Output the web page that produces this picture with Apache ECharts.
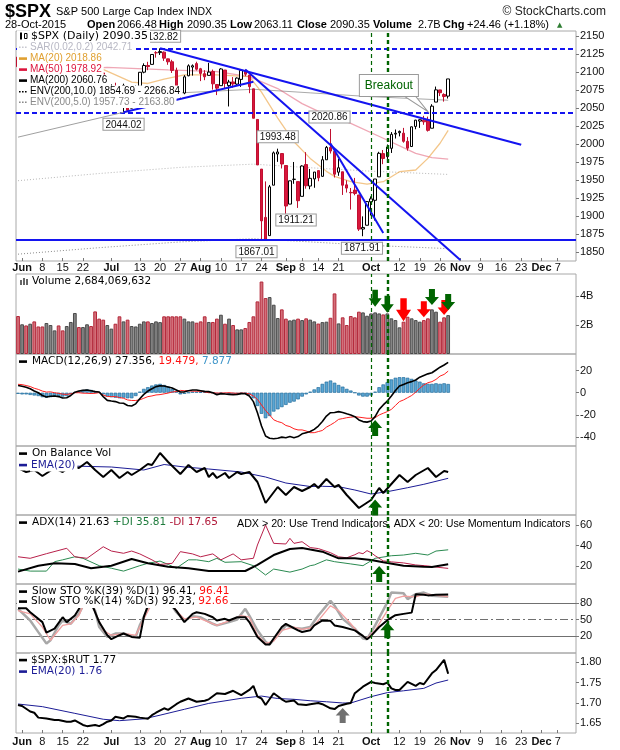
<!DOCTYPE html>
<html><head><meta charset="utf-8">
<script src="https://cdn.jsdelivr.net/npm/echarts@6/dist/echarts.min.js"></script>
<style>html,body{margin:0;padding:0;background:#fff}#c{width:620px;height:750px}</style>
</head><body><div id="c"></div>
<script>
// ---------------- DATA (index 0 = 2015-05-29, trading days) ----------------
const holidays = ['2015-07-03','2015-09-07','2015-11-26'];
const dates = (function(){const out=[];const d=new Date(Date.UTC(2015,4,29));while(out.length<138){const wd=d.getUTCDay();const s=d.toISOString().slice(0,10);if(wd!==0&&wd!==6&&holidays.indexOf(s)<0)out.push(s);d.setUTCDate(d.getUTCDate()+1);}return out;})();
const tickLabels = {'2015-06-01':'Jun','2015-06-08':'8','2015-06-15':'15','2015-06-22':'22','2015-07-01':'Jul','2015-07-13':'13','2015-07-20':'20','2015-07-27':'27','2015-08-03':'Aug','2015-08-10':'10','2015-08-17':'17','2015-08-24':'24','2015-09-01':'Sep','2015-09-08':'8','2015-09-14':'14','2015-09-21':'21','2015-10-01':'Oct','2015-10-12':'12','2015-10-19':'19','2015-10-26':'26','2015-11-02':'Nov','2015-11-09':'9','2015-11-16':'16','2015-11-23':'23','2015-12-01':'Dec','2015-12-07':'7'};
const monthNames = ['Jun','Jul','Aug','Sep','Oct','Nov','Dec'];

const open = [2120.66,2108.64,2110.41,2110.64,2112.35,2095.09,2092.34,2079.07,2081.12,2106.24,2107.43,2091.34,2084.26,2097.40,2101.58,2121.06,2112.50,2123.16,2123.65,2109.96,2102.62,2098.63,2061.19,2067.00,2078.03,2073.95,2069.52,2077.66,2049.73,2052.74,2080.03,2099.72,2109.01,2110.55,2126.80,2126.85,2127.55,2118.21,2114.16,2102.24,2078.19,2070.75,2094.70,2106.78,2111.60,2104.49,2097.68,2095.27,2100.75,2082.61,2080.98,2102.66,2081.10,2086.19,2083.15,2089.70,2101.99,2095.69,2076.61,2034.08,1965.15,1898.08,1872.75,1942.77,1986.06,1986.73,1970.09,1916.52,1950.79,1947.76,1927.30,1971.45,1941.59,1951.45,1963.06,1955.10,1978.02,1995.33,1989.66,1960.84,1961.39,1943.24,1932.74,1935.93,1929.18,1881.90,1887.14,1919.65,1921.77,1954.33,1986.63,1982.34,1994.01,2013.73,2015.65,2015.00,2003.66,1996.47,2024.37,2031.73,2033.13,2033.47,2021.88,2058.19,2075.08,2068.75,2066.48];
const high = [2120.66,2119.15,2117.59,2121.92,2112.89,2100.99,2093.01,2085.62,2108.50,2115.02,2107.43,2091.34,2097.40,2106.79,2126.65,2121.64,2129.87,2128.03,2125.10,2116.04,2108.92,2098.63,2074.28,2082.78,2085.06,2078.61,2083.74,2077.66,2074.28,2081.31,2099.88,2111.98,2114.14,2124.42,2128.91,2132.82,2128.49,2118.51,2116.87,2106.01,2078.19,2095.60,2110.60,2110.48,2114.24,2105.70,2102.51,2112.66,2103.32,2082.61,2105.35,2102.66,2089.06,2092.93,2092.45,2102.87,2103.47,2096.17,2076.61,2034.08,1965.15,1948.04,1943.09,1989.60,1993.48,1986.73,1970.09,1948.91,1975.01,1947.76,1970.42,1988.63,1965.29,1961.05,1963.06,1983.19,1997.26,2020.86,1989.66,1979.64,1961.39,1949.52,1938.88,1952.89,1929.18,1899.48,1920.53,1927.21,1951.36,1989.17,1991.62,1999.31,2016.50,2020.13,2018.66,2022.34,2009.56,2024.15,2033.54,2034.45,2039.12,2037.97,2055.20,2079.74,2075.14,2070.37,2090.35];
const low = [2104.89,2102.54,2099.14,2109.61,2093.23,2085.67,2079.11,2072.14,2081.12,2106.24,2091.33,2072.49,2082.10,2088.86,2101.58,2109.45,2112.50,2119.89,2108.58,2101.78,2095.38,2056.64,2056.32,2067.00,2071.02,2058.40,2044.02,2044.66,2049.73,2052.74,2080.03,2098.18,2102.49,2110.55,2119.88,2123.66,2115.40,2110.00,2098.63,2077.09,2063.52,2069.09,2094.08,2094.97,2102.07,2087.31,2088.60,2095.27,2075.53,2067.91,2080.98,2076.49,2052.09,2078.26,2080.61,2079.30,2094.14,2070.53,2035.73,1970.89,1867.01,1867.08,1872.75,1942.77,1975.19,1965.98,1903.07,1916.52,1944.72,1911.21,1927.30,1937.88,1937.19,1939.19,1948.27,1954.30,1977.93,1986.73,1953.45,1955.80,1929.22,1932.57,1908.92,1928.75,1879.21,1871.91,1887.14,1900.70,1893.70,1954.33,1971.99,1976.44,1987.53,2007.61,2010.55,2001.78,1990.73,1996.47,2020.46,2022.31,2026.61,2017.22,2021.88,2058.19,2066.53,2058.84,2063.11];
const close = [2107.39,2111.73,2109.60,2114.07,2095.84,2092.83,2079.28,2080.15,2105.20,2108.86,2094.11,2084.43,2096.29,2100.44,2121.24,2109.99,2122.85,2124.20,2108.58,2102.31,2101.49,2057.64,2063.11,2077.42,2076.78,2068.76,2081.34,2046.68,2051.31,2076.62,2099.60,2108.95,2107.40,2124.29,2126.64,2128.28,2119.21,2114.15,2102.15,2079.65,2067.64,2093.25,2108.57,2108.63,2103.84,2098.04,2093.32,2099.84,2083.56,2077.57,2104.18,2084.07,2086.05,2083.39,2091.54,2102.44,2096.92,2079.61,2035.73,1970.89,1893.21,1867.61,1940.51,1987.66,1988.87,1972.18,1913.85,1948.86,1951.13,1921.22,1969.41,1942.04,1952.29,1961.05,1953.03,1978.09,1995.31,1990.20,1958.03,1966.97,1942.74,1938.76,1932.24,1931.34,1881.77,1884.09,1920.03,1923.82,1951.36,1987.05,1979.92,1995.83,2013.43,2014.89,2017.46,2003.69,1994.24,2023.86,2033.11,2033.66,2030.77,2018.94,2052.51,2075.15,2071.18,2065.89,2090.35];
// volume in billions
const volume = [2.62,2.05,1.97,2.09,2.25,1.9,1.9,2.14,2.0,1.63,1.97,1.63,1.93,2.21,2.83,1.86,1.86,2.05,1.93,2.94,2.44,2.37,2.0,1.75,2.09,2.6,2.25,2.37,1.93,1.9,2.09,2.25,2.25,2.14,2.25,2.2,2.6,2.6,2.6,2.6,2.6,2.44,2.25,2.25,2.16,2.25,2.6,2.21,2.21,2.44,2.71,2.09,2.44,2.0,1.7,1.7,1.79,2.21,2.6,3.63,5.0,3.86,3.93,3.4,2.48,3.08,2.44,2.32,2.37,2.44,2.34,2.46,2.37,2.25,2.1,2.2,2.23,2.5,4.18,2.11,2.53,2.0,2.62,2.53,2.92,2.87,2.64,2.8,2.87,2.8,2.73,2.8,2.46,2.34,1.84,2.23,2.57,2.46,2.34,2.23,2.34,2.46,3.08,2.92,2.23,2.53,2.684];
// moving averages / envelopes: [dayIndex, value]
const ma20 = [[0,2104],[10,2101],[20,2106],[24,2096],[28,2086],[32,2084],[36,2090],[41,2096],[49,2096],[57,2093.5],[60,2072],[64,2036],[68,2003],[72,1980],[76,1962],[78,1955],[82,1947.6],[86,1944.4],[90,1947.6],[94,1961.5],[98,1963.9],[101,1980],[104,2001],[106,2018.86]];
const ma50 = [[0,2100],[22,2106.5],[37,2102.8],[49,2100.5],[57,2093.5],[64,2077],[70,2056],[76,2040],[82,2028.7],[90,2008],[98,1987],[102,1981],[106,1978.92]];
const ma200 = [[0,2052],[20,2062],[40,2071],[58,2076],[72,2071],[86,2066],[106,2060.76]];
const env5Low = [[0,1949],[20,1959],[40,1967.5],[58,1972],[72,1967],[86,1962.5],[106,1957.73]];
const env10Low = [[0,1847],[20,1856],[40,1864],[58,1868.5],[72,1864],[86,1859.5],[106,1854.69]];
// annotation levels and trend lines [x0,y0,x1,y1]
const levels = {top:2132.82, mid:2044.02, bottom:1867.01};
const trendLines = [[35,2132.82,124,1999],[26,2044.02,58,2086.5],[56,2103.47,109,1839],[77,2000.7,90,1876.4]];
const trendExt = [0,2009.5,26,2044.02];
const pivots = [[35,'high','top',0],[26,'low','bottom',0],[60,'low','bottom',-5],[64,'high','top',0],[69,'low','bottom',-2],[77,'high','top',-1],[85,'low','bottom',-1]];
const signalDays = [87,91];
// MACD
const macd = [6.6,5.8,5.0,3.6,1.5,0,-2.5,-3.9,-3.2,-3.0,-3.5,-4.8,-4.5,-2.5,0.5,1.5,2.1,2.5,1.8,1.0,0.6,-3.5,-6.9,-7.5,-8.0,-9.3,-9.5,-11.5,-12.0,-10.0,-5.4,-1.5,1.5,3.6,5.5,6.3,6.0,5.2,4.2,2.5,0.6,0.8,1.8,2.4,2.4,1.8,1.2,1.0,0,-1.8,-0.8,-1.2,-1.5,-1.8,-1.5,-0.8,-0.9,-3.0,-8.0,-18.0,-30.0,-39.0,-41.0,-41.4,-41.0,-40.0,-40.5,-39.5,-40.5,-39.5,-37.0,-36.0,-35.0,-33.0,-30.0,-26.0,-21.0,-18.0,-17.8,-17.0,-17.8,-19.0,-20.0,-21.6,-24.5,-26.0,-26.5,-25.5,-21.5,-15.0,-11.0,-7.5,-3.0,2.0,6.0,7.5,9.0,10.0,11.5,14.0,15.5,17.0,18.0,20.5,23.0,25.0,27.36];
const macdSignal = [7.6,7.3,6.5,5.6,4.0,3.0,1.5,0.6,0.8,0.0,-0.5,-1.3,-1.5,-1.0,0.0,0.0,-0.4,-0.5,-0.7,-0.5,0.1,-2.0,-3.4,-3.5,-3.5,-4.3,-5.0,-6.5,-7.0,-7.0,-6.4,-5.0,-3.5,-2.9,-2.0,-1.7,-1.0,-0.3,0.7,1.0,2.1,1.8,1.8,1.4,1.4,1.3,0.7,0.0,0.0,-0.3,-0.3,-0.2,0.0,-0.3,-0.5,-0.3,-0.4,-1.0,-3.0,-6.0,-11.0,-16.0,-20.0,-24.4,-26.0,-27.0,-29.5,-30.5,-32.5,-33.5,-33.5,-34.5,-36.0,-36.0,-35.0,-34.0,-31.0,-29.0,-26.8,-24.0,-23.3,-22.5,-22.0,-21.6,-22.0,-22.5,-23.0,-23.0,-22.5,-20.0,-18.5,-17.0,-15.0,-11.5,-8.0,-6.5,-4.5,-2.5,0.5,4.0,7.0,9.0,10.0,12.0,15.0,16.5,19.48];
const macdHist = [-1,-1.5,-1.5,-2,-2.5,-3,-4,-4.5,-4,-3,-3,-3.5,-3,-1.5,0.5,1.5,2.5,3,2.5,1.5,0.5,-1.5,-3.5,-4,-4.5,-5,-4.5,-5,-5,-3,1,3.5,5,6.5,7.5,8,7,5.5,3.5,1.5,-1.5,-1,0,1,1,0.5,0.5,1,0,-1.5,-0.5,-1,-1.5,-1.5,-1,-0.5,-0.5,-2,-5,-12,-19,-23,-21,-17,-15,-13,-11,-9,-8,-6,-3.5,-1.5,1,3,5,8,10,11,9,7,5.5,3.5,2,0,-2.5,-3.5,-3.5,-2.5,1,5,7.5,9.5,12,13.5,14,14,13.5,12.5,11,10,8.5,8,8,8.5,8,8.5,7.88];
// On Balance Volume (relative units, billions)
const obv = [[0,147],[2,143],[4,145],[6,139],[9,147],[11,143],[13,149],[15,147],[17,153],[19,145],[21,138],[23,145],[25,137],[27,143],[28,140],[30,145],[32,151],[33,150],[35,162],[37,153],[40,141],[42,150],[44,143],[46,147],[47,138],[48,142],[49,137],[51,142],[52,137],[54,143],[55,141],[57,143],[59,133],[61,112],[64,128],[66,120],[68,128],[70,124],[72,128],[73,131],[74,127],[76,136],[78,128],[79,130],[81,120],[84,107],[87,115],[89,127],[90,122],[94,140],[96,133],[98,140],[101,147],[103,138],[105,144],[106,143]];
const obvEma = [[0,150],[13,149],[23,148],[31,145],[36,150.5],[41,148],[47,146],[55,143],[61,138],[66,132],[72,128.5],[75,128.7],[79,128.3],[83,125],[87,121],[91,123.3],[96,127.3],[100,130.7],[106,136.7]];
// ADX
const adx = [[0,14.5],[5,20.3],[9,22.6],[14,22],[18,17.8],[23,20.3],[28,26.8],[32,22.6],[37,19.3],[42,17.8],[47,15.1],[51,15.1],[56,15.1],[59,21],[63,30.7],[67,36.6],[70,37.6],[72,36],[75,34],[79,27.5],[83,27.5],[87,25.9],[90,23.6],[95,20.3],[100,19.3],[102,19],[106,21.63]];
const plusDI = [[0,17],[3,15],[7,15],[9,24.2],[11,26],[14,29],[16,27.5],[20,20.3],[23,17.8],[26,15],[30,20.3],[32,22.6],[35,24.8],[37,21.5],[39,17.8],[42,26],[44,26],[47,24.2],[49,27.5],[51,23.6],[55,24.2],[58,20.3],[61,11.2],[63,17],[67,14],[70,17],[72,20.3],[73,21],[76,26],[78,24.2],[82,22],[85,20.3],[88,27.5],[92,30],[95,30.7],[98,32.4],[101,30.7],[103,34.6],[106,35.81]];
const minusDI = [[0,29],[3,27.5],[7,32],[12,37.3],[14,29],[17,27.5],[21,38.8],[23,34.6],[26,32.4],[28,34.6],[30,31.8],[33,26],[35,21.5],[38,22.6],[40,34],[43,31.8],[45,29],[48,31.8],[50,26],[53,31.8],[55,26],[58,27.5],[59,40.5],[61,60],[63,42.1],[66,41.5],[67,47],[68,42.1],[70,43.7],[72,38],[74,37],[77,33],[79,29],[81,28],[83,31],[84,33],[85,32],[86,35],[87,33],[88,30],[90,25],[92,24],[95,23],[98,21],[101,20],[104,18.5],[106,17.65]];
// Slow stochastics
const stoK39 = [[0,71],[2,71],[3,63.7],[6,45.5],[7,26.1],[9,33.4],[11,54.5],[12,45.5],[14,57.6],[15,69.8],[16,88],[17,96],[18,81.8],[20,45.5],[22,21.3],[23,14],[25,21.3],[26,24.4],[28,18.2],[30,16.4],[31,55],[32,75.8],[33,92],[35,99],[37,90],[38,75],[39,66.7],[41,45.5],[43,60.7],[44,63.7],[46,60.7],[48,54.5],[49,48.5],[51,51.5],[52,48.5],[54,54.5],[56,54.5],[57,45.5],[59,18.2],[61,4.3],[62,4.3],[63,15.2],[65,36.4],[66,42.4],[69,30.3],[70,27.3],[72,30.3],[73,39.4],[75,48.5],[77,47.9],[78,39.4],[80,36.4],[83,30.3],[85,20],[86,14],[87,20],[89,36.4],[91,49.1],[93,58.2],[95,60.7],[97,63],[98,97],[100,96],[101,94.8],[103,96],[106,96.41]];
const stoK14 = [[0,70],[3,48.5],[5,27],[7,6.1],[8,12],[10,39.4],[11,48.5],[13,42.4],[15,60.7],[16,75.8],[17,90],[19,66.7],[20,36.4],[22,18.2],[24,24.4],[26,24.4],[29,18.2],[30,39.4],[32,70],[34,95],[36,95],[38,75],[39,63.7],[41,48.5],[43,56.4],[45,54.5],[48,42.4],[49,39.4],[52,45.5],[54,50.3],[56,70],[57,57.6],[59,30.3],[61,9.1],[62,4.3],[64,21.3],[66,39.4],[68,34.6],[70,33.4],[72,36.4],[74,57.6],[77,85],[78,75.8],[80,51.5],[83,33.4],[85,15.2],[86,14],[88,39.4],[91,81.8],[92,100],[95,98.8],[96,88],[98,97],[100,100],[102,94.2],[106,92.23]];
const stoD3 = [[0,66.7],[3,60.7],[6,36.4],[8,12],[9,21.3],[11,39.4],[13,42.4],[15,57.6],[16,75.8],[18,85],[19,63.7],[21,30.3],[23,21.3],[26,24.4],[29,21.3],[31,51.5],[33,80],[35,92],[37,88],[39,66.7],[41,51.5],[44,54.5],[47,45.5],[49,39.4],[52,47.9],[55,57.6],[57,54.5],[59,21.3],[61,6.1],[63,10.3],[65,30.3],[68,36.4],[70,32.2],[72,34.6],[73,39.4],[75,57.6],[77,75.8],[79,66.7],[82,42.4],[84,24.4],[86,15.2],[88,30.3],[91,66.7],[93,89.2],[95,93.3],[98,92],[100,97],[102,96],[106,92.66]];
// $SPX:$RUT ratio
const ratio = [[0,1.695],[1,1.6925],[3,1.679],[4,1.676],[5,1.664],[7,1.662],[9,1.658],[10,1.658],[12,1.654],[13,1.654],[14,1.657],[16,1.646],[17,1.643],[19,1.646],[20,1.643],[21,1.648],[22,1.654],[23,1.657],[24,1.666],[26,1.662],[27,1.668],[29,1.666],[30,1.664],[32,1.661],[33,1.67],[34,1.676],[36,1.687],[37,1.683],[39,1.697],[40,1.703],[42,1.711],[44,1.703],[46,1.7055],[47,1.709],[49,1.724],[51,1.722],[53,1.73],[55,1.7195],[57,1.732],[58,1.742],[59,1.7155],[60,1.711],[61,1.695],[63,1.724],[65,1.709],[66,1.703],[68,1.706],[69,1.697],[71,1.695],[72,1.697],[74,1.7],[75,1.697],[77,1.687],[78,1.685],[79,1.6925],[81,1.698],[82,1.7],[83,1.724],[85,1.74],[87,1.752],[88,1.749],[90,1.746],[91,1.75],[92,1.736],[93,1.732],[94,1.732],[96,1.752],[98,1.742],[99,1.749],[100,1.746],[102,1.773],[103,1.781],[105,1.806],[106,1.772]];
const ratioEma = [[0,1.6975],[6,1.691],[14,1.6745],[21,1.66],[25,1.6565],[31,1.661],[35,1.67],[41,1.6845],[47,1.699],[55,1.7115],[60,1.717],[64,1.711],[68,1.709],[72,1.7055],[76,1.703],[80,1.70],[82,1.70],[87,1.7155],[91,1.7255],[95,1.73],[100,1.736],[103,1.749],[106,1.7565]];
// arrows: [dayIndex, value, colour, width, height]
const volArrows = [[88,3.84,'g',13,17],[91,3.43,'g',13,17],[95,3.05,'r',15,23],[100,3.09,'r',14,16],[102,3.93,'g',14,16],[105,3.21,'r',13,15],[106,3.59,'g',14,16]];
const macdArrow = [88,-31.8], obvArrow = [88,107.5], adxArrow = [89,12.2], stoArrow = [91,30.4], ratioArrow = [80,1.6692];
// tick labels
const priceTicks = [1850,1875,1900,1925,1950,1975,2000,2025,2050,2075,2100,2125,2150];
const volTicks = [2,4], macdTicks = [-40,-20,0,20], adxTicks = [20,40,60], stoTicks = [20,50,80], ratioTicks = [1.65,1.70,1.75,1.80];

// ---------------- CHART ----------------
const BLUE='#1414f0', DGREEN='#006400', FONT='Liberation Sans', LFONT='"DejaVu Sans"';
const panels = [[31,230],[274,80],[354,92],[446,69],[515,69],[584,69],[653,80]];
const yCfg = [
  {min:1837.5,max:2156.9,ticks:priceTicks},
  {min:0,max:5.52,ticks:volTicks,fmt:v=>v+'B'},
  {min:-48,max:34.9,ticks:macdTicks},
  {min:100,max:169,ticks:[]},
  {min:2.4,max:69.8,ticks:adxTicks},
  {min:-11.5,max:115.8,ticks:stoTicks},
  {min:1.6262,max:1.8229,ticks:ratioTicks,fmt:v=>v.toFixed(2)}
];
const tickFn = (i,v)=>tickLabels[v]!==undefined;
const labFn = v=>{const t=tickLabels[v];if(t===undefined)return '';return monthNames.indexOf(t)>=0?'{m|'+t+'}':t;};
const grid = panels.map(p=>({left:16,right:44,top:p[0],height:p[1],show:true,borderColor:'#a8a8a8',borderWidth:1}));
const xAxis = panels.map((p,i)=>{const lab=(i===0||i===6);return {type:'category',gridIndex:i,data:dates,boundaryGap:true,show:true,
  axisLine:{show:false},splitLine:{show:false},
  axisTick:{show:lab,interval:tickFn,alignWithLabel:true,inside:true,length:3,lineStyle:{color:'#777'}},
  axisLabel:{show:lab,interval:tickFn,formatter:labFn,margin:i===0?1:3,fontSize:11,fontFamily:FONT,color:'#111',
    rich:{m:{fontWeight:'bold',fontSize:11,fontFamily:FONT,color:'#111'}}}};});
const yAxis = yCfg.map((c,i)=>({type:'value',gridIndex:i,position:'right',min:c.min,max:c.max,
  axisLine:{show:false},splitLine:{show:false},
  axisTick:{show:c.ticks.length>0,length:3,customValues:c.ticks,lineStyle:{color:'#777'}},
  axisLabel:{show:c.ticks.length>0,customValues:c.ticks,margin:4,fontSize:11,fontFamily:FONT,color:'#111',formatter:c.fmt||(v=>String(v))}}));

const vLines = signalDays.map((d,k)=>({xAxis:d,lineStyle:{color:DGREEN,width:k===0?1.2:2.4,type:[4,3]}}));
const mlBase = {symbol:['none','none'],silent:true,animation:false,label:{show:false}};
const DOWN='path://M4,0 L10,0 L10,8 L14,8 L7,16 L0,8 L4,8 Z';
const UP='path://M7,0 L14,8 L10,8 L10,16 L4,16 L4,8 L0,8 Z';
const arrowPt=(c,v,col,w,h,path)=>({coord:[c,v],symbol:path,symbolSize:[w,h],itemStyle:{color:col},label:{show:false}});
const lineS=(xi,data,color,width,extra)=>Object.assign({type:'line',xAxisIndex:xi,yAxisIndex:xi,data:data,symbol:'none',showSymbol:false,silent:true,lineStyle:{color:color,width:width},itemStyle:{color:color},z:2},extra||{});

const boxLabel={show:true,formatter:'{c}',fontSize:10,fontFamily:FONT,color:'#111',backgroundColor:'#fff',borderColor:'#9a9a9a',borderWidth:1,padding:[1,2,0,2],distance:6};
const pivotPts = pivots.map(p=>{const v=p[1]==='high'?high[p[0]]:low[p[0]];return {coord:[p[0],v],value:v.toFixed(2),symbol:'rect',symbolSize:1,itemStyle:{color:'rgba(0,0,0,0)'},
  label:Object.assign({},boxLabel,{position:p[2],offset:[p[3],0]})};});
const breakoutAt=[101,2045];
pivotPts.push({coord:breakoutAt,symbol:'path://M0,0 L11,0 L23,15 Z',symbolSize:[23,15],symbolOffset:[-11.5,-7.5],itemStyle:{color:'#fff',borderColor:'#999',borderWidth:1},label:{show:false}});
pivotPts.push({coord:breakoutAt,value:'Breakout',symbol:'rect',symbolSize:1,itemStyle:{color:'rgba(0,0,0,0)'},
  label:{show:true,position:'inside',offset:[-39,-26],formatter:'Breakout',fontSize:12,fontFamily:FONT,color:DGREEN,backgroundColor:'#fff',borderColor:'#9a9a9a',borderWidth:1,padding:[5,5,4,5]}});

const priceML = [
  {yAxis:levels.top,lineStyle:{color:BLUE,width:2,type:[5,3]}},
  {yAxis:levels.mid,lineStyle:{color:BLUE,width:2,type:[5,3]}},
  {yAxis:levels.bottom,lineStyle:{color:BLUE,width:2,type:'solid'}}
].concat(trendLines.map(t=>[{coord:[t[0],t[1]],lineStyle:{color:BLUE,width:2,type:'solid'}},{coord:[t[2],t[3]]}]))
 .concat([[{coord:[trendExt[0],trendExt[1]],lineStyle:{color:'#a0a0a0',width:1,type:'solid'}},{coord:[trendExt[2],trendExt[3]]}]])
 .concat(vLines);

const redBar={color:'#d4707a',borderColor:'#b3283a',borderWidth:1};
const grayBar={color:'#858585',borderColor:'#4a4a4a',borderWidth:1};
const volData = volume.map((v,i)=>({value:v,itemStyle:(i===0?close[i]<open[i]:close[i]<close[i-1])?redBar:grayBar}));

const series = [
  lineS(0,env10Low,'#8a8a8a',1,{lineStyle:{color:'#8a8a8a',width:1,type:[1,2]}}),
  lineS(0,env5Low,'#b8b8b8',1,{lineStyle:{color:'#b8b8b8',width:1,type:[1,2]}}),
  lineS(0,ma200,'#aaaaaa',1),
  lineS(0,ma50,'rgba(220,60,90,0.45)',1.3),
  lineS(0,ma20,'rgba(235,160,60,0.6)',1.3),
  {type:'candlestick',xAxisIndex:0,yAxisIndex:0,silent:true,z:3,barWidth:3,
    data:open.map((o,i)=>[o,close[i],low[i],high[i]]),
    itemStyle:{color:'#ffffff',color0:'#d8163c',borderColor:'#000000',borderColor0:'#c01030',borderWidth:1},
    markLine:Object.assign({},mlBase,{data:priceML}),
    markPoint:{silent:true,animation:false,data:pivotPts}},
  {type:'bar',xAxisIndex:1,yAxisIndex:1,data:volData,barCategoryGap:'8%',silent:true,
    markLine:Object.assign({},mlBase,{data:vLines}),
    markPoint:{silent:true,animation:false,data:volArrows.map(a=>arrowPt(a[0],a[1],a[2]==='g'?DGREEN:'#ff0000',a[3],a[4],DOWN))}},
  {type:'bar',xAxisIndex:2,yAxisIndex:2,data:macdHist,barCategoryGap:'12%',silent:true,itemStyle:{color:'#5aa6d4',borderColor:'#236d9c',borderWidth:0.7}},
  lineS(2,macdSignal,'#ff2020',1,{z:3}),
  lineS(2,macd,'#000000',1.6,{z:4,markLine:Object.assign({},mlBase,{data:vLines}),markPoint:{silent:true,animation:false,data:[arrowPt(macdArrow[0],macdArrow[1],DGREEN,14,16,UP)]}}),
  lineS(3,obvEma,'#1c1c96',1),
  lineS(3,obv,'#000000',2,{z:3,markLine:Object.assign({},mlBase,{data:vLines}),markPoint:{silent:true,animation:false,data:[arrowPt(obvArrow[0],obvArrow[1],DGREEN,14,16,UP)]}}),
  lineS(4,plusDI,'#2a8a50',1),
  lineS(4,minusDI,'#b8204a',1),
  lineS(4,adx,'#000000',2,{z:3,markLine:Object.assign({},mlBase,{data:vLines}),markPoint:{silent:true,animation:false,data:[arrowPt(adxArrow[0],adxArrow[1],DGREEN,14,16,UP)]}}),
  lineS(5,stoK14,'#a8a8a8',2.5,{markLine:Object.assign({},mlBase,{z:1,data:[
      {yAxis:80,lineStyle:{color:'#707070',width:1,type:'solid'}},
      {yAxis:50,lineStyle:{color:'#707070',width:1,type:[8,3,2,3]}},
      {yAxis:20,lineStyle:{color:'#707070',width:1,type:'solid'}}]})}),
  lineS(5,stoD3,'#f2a0a0',1.3,{z:3}),
  lineS(5,stoK39,'#000000',2,{z:4,markLine:Object.assign({},mlBase,{data:vLines}),markPoint:{silent:true,animation:false,data:[arrowPt(stoArrow[0],stoArrow[1],DGREEN,14,16,UP)]}}),
  lineS(6,ratioEma,'#1c1c96',1),
  lineS(6,ratio,'#000000',2,{z:3,markLine:Object.assign({},mlBase,{data:vLines}),markPoint:{silent:true,animation:false,data:[arrowPt(ratioArrow[0],ratioArrow[1],'#707070',14,15,UP)]}})
];

// ---------------- TEXT (header + legends) ----------------
const gfx=[];
function txt(x,y,text,font,fill,opt){gfx.push({type:'text',x:x,y:y,z:100,silent:true,style:Object.assign({text:text,font:font,fill:fill,verticalAlign:'middle',align:'left'},opt||{})});}
function ltxt(x,y,text,font,fill,rich){txt(x,y,text,font,fill,{backgroundColor:'#fff',padding:[1,2,1,1],rich:rich});}
function rect(x,y,w,h,fill,stroke){gfx.push({type:'rect',z:101,silent:true,shape:{x:x,y:y,width:w,height:h},style:{fill:fill,stroke:stroke||null,lineWidth:1}});}
function marker(y,color,dotted){rect(17,y-5.5,13,11,'#fff');if(dotted){for(let k=0;k<3;k++)rect(19+k*3,y-0.5,1.6,1.6,color);}else rect(19,y-1.2,8,2.6,color);}

const H1='bold 18px "Liberation Sans"';
txt(5,12,'$SPX',H1,'#000');
txt(56,12,'S&P 500 Large Cap Index','11px "Liberation Sans"','#000');
txt(187,12,'INDX','10.5px "Liberation Sans"','#000');
txt(606,12,'\u00A9 StockCharts.com','12px "Liberation Sans"','#222',{align:'right'});
const hdr=[[5,'28-Oct-2015',0],[87,'Open',1],[117,'2066.48',0],[159,'High',1],[187,'2090.35',0],[230,'Low',1],[254,'2063.11',0],[297,'Close',1],[330,'2090.35',0],[373,'Volume',1],[418,'2.7B',0],[443,'Chg',1],[467,'+24.46 (+1.18%)',0]];
hdr.forEach(h=>txt(h[0],25,h[1],(h[2]?'bold ':'')+'11px "Liberation Sans"','#000'));
txt(557,25,'\u25B2','7px "DejaVu Sans"','#2e7d32');

// price legend
rect(17,30.5,13,11,'#fff');
rect(20,32.5,2,7,'#000');rect(24.5,33.5,2.5,5,'#fff','#000');
ltxt(30,36.5,'$SPX (Daily) 2090.35','11px '+LFONT,'#000');
const MF='10px "Liberation Sans"';
marker(47,'#c8c8d0',true); ltxt(29,47,'SAR(0.02,0.2) 2042.71',MF,'#b8b8c4');
marker(58.5,'#e0a030'); ltxt(29,58.5,'MA(20) 2018.86',MF,'#e0a030');
marker(69.5,'#dc143c'); ltxt(29,69.5,'MA(50) 1978.92',MF,'#dc143c');
marker(80.5,'#000'); ltxt(29,80.5,'MA(200) 2060.76',MF,'#000');
marker(91.5,'#000',true); ltxt(29,91.5,'ENV(200,10.0) 1854.69 - 2266.84',MF,'#000');
marker(102,'#8a8a8a',true); ltxt(29,102,'ENV(200,5.0) 1957.73 - 2163.80',MF,'#8a8a8a');

const PF='10.5px '+LFONT;
// panel legends
rect(17,276,13,11,'#fff'); rect(20,280,2,5,'#666'); rect(23,278,2,7,'#666'); rect(26,279,2,6,'#666');
ltxt(31,281.5,'Volume 2,684,069,632',PF,'#000');
marker(361.5,'#000'); ltxt(31,361.5,'MACD(12,26,9) 27.356, {r|19.479, }{b|7.877}',PF,'#000',{r:{fill:'#ff1010',font:PF},b:{fill:'#3c94c8',font:PF}});
marker(453.5,'#000'); ltxt(31,453.5,'On Balance Vol',PF,'#000');
marker(465,'#1c1c96'); ltxt(30,465,'EMA(20)',PF,'#1c1c96');
marker(522.5,'#000'); ltxt(31,522.5,'ADX(14) 21.63 {g|+DI 35.81} {r|-DI 17.65}',PF,'#000',{g:{fill:'#1e7b3c',font:PF},r:{fill:'#b01838',font:PF}});
txt(237,524.5,'ADX > 20: Use Trend Indicators, ADX < 20: Use Momentum Indicators','10.7px "Liberation Sans"','#000');
marker(591.5,'#000'); ltxt(31,591.5,'Slow STO %K(39) %D(1) 96.41, {r|96.41}',PF,'#000',{r:{fill:'#ff1010',font:PF}});
marker(601.5,'#000'); ltxt(30,601.5,'Slow STO %K(14) %D(3) 92.23, {r|92.66}',PF,'#000',{r:{fill:'#ff1010',font:PF}});
marker(660,'#000'); ltxt(30,660,'$SPX:$RUT 1.77',PF,'#000');
marker(671.5,'#1c1c96'); ltxt(30,671.5,'EMA(20) 1.76',PF,'#1c1c96');

const chart = echarts.init(document.getElementById('c'),null,{renderer:'canvas',width:620,height:750});
chart.setOption({animation:false,backgroundColor:'#fff',textStyle:{fontFamily:FONT},grid:grid,xAxis:xAxis,yAxis:yAxis,series:series,graphic:{elements:gfx}});
</script></body></html>
